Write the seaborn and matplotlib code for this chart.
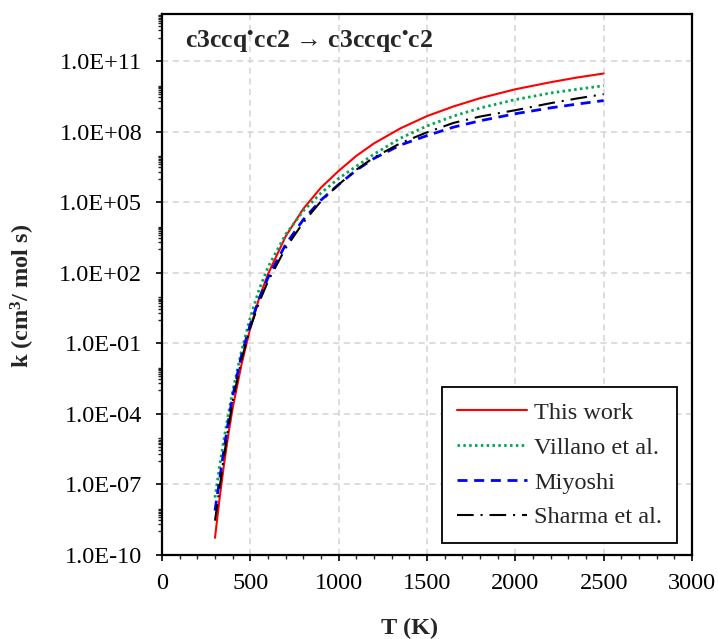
import numpy as np
import pandas as pd
import matplotlib
matplotlib.use("Agg")
import matplotlib.pyplot as plt
import matplotlib.ticker as mticker
import seaborn as sns

# ---- data: temperature (K) and log10 k ----
T = [300, 325, 350, 375, 400, 450, 500, 550, 600, 700, 800, 900, 1000,
     1100, 1200, 1350, 1500, 1650, 1800, 2000, 2200, 2350, 2500]
log_this_work = [-9.27, -7.65, -6.20, -4.90, -3.75, -1.90, -0.35, 0.92, 1.94, 3.55, 4.72, 5.62, 6.33,
                 6.97, 7.50, 8.14, 8.66, 9.07, 9.42, 9.80, 10.10, 10.30, 10.47]
log_villano = [-7.56, -6.28, -5.12, -4.03, -3.04, -1.33, 0.10, 1.29, 2.24, 3.63, 4.63, 5.39, 6.01,
               6.53, 7.04, 7.72, 8.24, 8.66, 9.00, 9.36, 9.64, 9.80, 9.95]
log_miyoshi = [-8.11, -6.85, -5.55, -4.35, -3.25, -1.51, -0.19, 0.89, 1.79, 3.20, 4.26, 5.09, 5.75,
               6.36, 6.86, 7.43, 7.83, 8.19, 8.46, 8.76, 9.01, 9.17, 9.32]
log_sharma = [-8.54, -7.20, -5.85, -4.60, -3.47, -1.69, -0.34, 0.74, 1.64, 3.05, 4.14, 5.04, 5.75,
              6.38, 6.90, 7.51, 7.97, 8.37, 8.64, 8.91, 9.21, 9.41, 9.59]

series_names = ["This work", "Villano et al.", "Miyoshi", "Sharma et al."]
series_logk = [log_this_work, log_villano, log_miyoshi, log_sharma]
series_colors = ["#ff0000", "#00a651", "#0000ff", "#000000"]
series_dashes = [None, (0.9, 1.2), (3.6, 2.4), (8, 3.3, 1, 3.3)]
series_lw = [1.5, 2.0, 2.0, 1.5]

title_text = r"c3ccq$^{•}$cc2 → c3ccqc$^{•}$c2"
x_label = "T (K)"
y_label = r"k (cm$^{3}$/ mol s)"

sns.set_style("white")
plt.rcParams["font.family"] = ["Liberation Serif", "DejaVu Serif"]
plt.rcParams["mathtext.fontset"] = "custom"
plt.rcParams["mathtext.rm"] = "Liberation Serif:bold"
plt.rcParams["mathtext.it"] = "Liberation Serif:bold:italic"
plt.rcParams["mathtext.bf"] = "Liberation Serif:bold"

FS = 17.5

fig = plt.figure(figsize=(7.18, 6.39), dpi=100)
ax = fig.add_axes([162 / 718, 1 - 555 / 639, 530 / 718, 541 / 639])

for name, lk, col, dsh, lw in zip(series_names, series_logk, series_colors, series_dashes, series_lw):
    df = pd.DataFrame({"T": T, "k": 10.0 ** np.array(lk)})
    sns.lineplot(data=df, x="T", y="k", ax=ax, color=col, lw=lw, label=name)
    ln = ax.get_lines()[-1]
    if dsh is not None:
        ln.set_dashes(dsh)
        ln.set_dash_capstyle("butt")

ax.set_yscale("log")
ax.set_xlim(0, 3000)
ax.set_ylim(1e-10, 1e13)

major_y = [10.0 ** e for e in range(-10, 13, 3)]
minor_y = [k * 10.0 ** (e + 1) for e in range(-10, 13, 3) for k in range(1, 10)
           if k * 10.0 ** (e + 1) < 1e13]
ax.yaxis.set_major_locator(mticker.FixedLocator(major_y))
ax.yaxis.set_minor_locator(mticker.FixedLocator(minor_y))
ax.yaxis.set_major_formatter(mticker.FuncFormatter(lambda v, p: "{:.1E}".format(v)))
ax.yaxis.set_minor_formatter(mticker.NullFormatter())

ax.xaxis.set_major_locator(mticker.MultipleLocator(500))
ax.xaxis.set_minor_locator(mticker.MultipleLocator(100))

ax.tick_params(axis="both", which="major", direction="out", length=4.3, width=1.2,
               labelsize=FS, colors="black")
ax.tick_params(axis="both", which="minor", direction="out", length=3.2, width=1.0)
ax.tick_params(axis="x", which="both", bottom=True)
ax.tick_params(axis="x", which="major", pad=9)
ax.tick_params(axis="y", which="both", left=True)
ax.tick_params(axis="y", which="major", pad=10)

ax.grid(True, which="major", color="#d3d3d3", linestyle=(0, (4, 3)), lw=1.1)
ax.set_axisbelow(True)
for s in ax.spines.values():
    s.set_visible(True)
    s.set_color("black")
    s.set_linewidth(1.6)

ax.set_xlabel(x_label, fontsize=FS, fontweight="bold")
ax.set_ylabel(y_label, fontsize=FS, fontweight="bold")
ax.xaxis.set_label_coords((410 - 162) / 530, (555 - 618) / 541)
ax.yaxis.set_label_coords((37 - 162) / 530, (555 - 296) / 541)

ax.text((185 - 162) / 530, (555 - 42) / 541, title_text, transform=ax.transAxes,
        fontsize=18.5, fontweight="bold", va="center", ha="left")

leg = ax.legend(loc="lower right", bbox_to_anchor=(1 - 15 / 530, 12 / 541), borderaxespad=0,
                fontsize=FS, frameon=True, fancybox=False, framealpha=1,
                edgecolor="black", handlelength=2.9, handletextpad=0.3,
                labelspacing=0.53, borderpad=0.6)
leg.get_frame().set_linewidth(1.3)

fig.savefig("out.png", dpi=100)
